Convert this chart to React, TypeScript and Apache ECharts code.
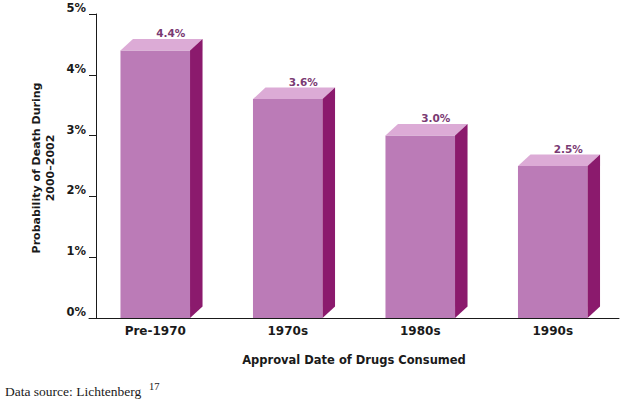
import React, { useEffect, useRef } from "react";
import * as echarts from "echarts";

const categories = ["Pre-1970", "1970s", "1980s", "1990s"];
const values = [4.4, 3.6, 3.0, 2.5];
const yTicks = [0, 1, 2, 3, 4, 5];

const FRONT = "#bb7bb7";
const TOP = "#dcabd6";
const SIDE = "#8b1a6d";
const LABEL = "#7a3a73";
const INK = "#1a1a1a";
const FONT = "'DejaVu Sans', Verdana, sans-serif";
const SERIF = "'Liberation Serif', 'Times New Roman', serif";

export default function App() {
  const ref = useRef<HTMLDivElement>(null);
  useEffect(() => {
    if (!ref.current) return;
    const chart = echarts.init(ref.current, null, { renderer: "svg" });
    const DX = 12.5;
    const DY = 11.5;
    chart.setOption({
      animation: false,
      backgroundColor: "#ffffff",
      grid: { left: 89, right: 11, top: 14, bottom: 88 },
      xAxis: {
        type: "category",
        data: categories,
        axisTick: { show: false },
        axisLine: { lineStyle: { color: INK, width: 1 } },
        axisLabel: {
          margin: 7,
          fontFamily: FONT,
          fontWeight: "bold",
          fontSize: 12,
          color: INK,
        },
        name: "Approval Date of Drugs Consumed",
        nameLocation: "middle",
        nameGap: 36,
        nameTextStyle: {
          fontFamily: FONT,
          fontWeight: "bold",
          fontSize: 11.5,
          color: INK,
        },
      },
      yAxis: {
        type: "value",
        min: yTicks[0],
        max: yTicks[yTicks.length - 1],
        interval: 1,
        offset: -7,
        splitLine: { show: false },
        axisLine: { show: true, lineStyle: { color: INK, width: 1 } },
        axisTick: { show: true, length: 7, lineStyle: { color: INK } },
        axisLabel: {
          formatter: "{value}%",
          margin: 10,
          verticalAlign: "bottom",
          fontFamily: FONT,
          fontWeight: "bold",
          fontSize: 11.5,
          color: INK,
        },
      },
      series: [
        {
          type: "custom",
          data: values.map((v, i) => [i, v]),
          renderItem: (params: any, api: any) => {
            const idx = api.value(0);
            const v = api.value(1);
            const base = api.coord([idx, 0]);
            const top = api.coord([idx, v]);
            const band = api.size([1, 0])[0];
            const w = band * 0.525;
            const x0 = base[0] - w / 2;
            const x1 = base[0] + w / 2;
            const yb = base[1];
            const yt = top[1];
            return {
              type: "group",
              children: [
                {
                  type: "polygon",
                  shape: { points: [[x0, yt], [x1, yt], [x1, yb], [x0, yb]] },
                  style: { fill: FRONT },
                },
                {
                  type: "polygon",
                  shape: {
                    points: [
                      [x0, yt],
                      [x0 + DX, yt - DY],
                      [x1 + DX, yt - DY],
                      [x1, yt],
                    ],
                  },
                  style: { fill: TOP },
                },
                {
                  type: "polygon",
                  shape: {
                    points: [
                      [x1, yt],
                      [x1 + DX, yt - DY],
                      [x1 + DX, yb - DY],
                      [x1, yb],
                    ],
                  },
                  style: { fill: SIDE },
                },
                {
                  type: "text",
                  style: {
                    x: base[0] + 15.5,
                    y: yt - DY - 6,
                    text: v.toFixed(1) + "%",
                    textAlign: "center",
                    textVerticalAlign: "middle",
                    fill: LABEL,
                    font: `bold 10.5px ${FONT}`,
                  },
                },
              ],
            };
          },
        },
      ],
      graphic: [
        {
          type: "text",
          x: 43,
          y: 168,
          rotation: Math.PI / 2,
          style: {
            text: "Probability of Death During\n2000–2002",
            textAlign: "center",
            textVerticalAlign: "middle",
            lineHeight: 14,
            fill: INK,
            font: `bold 11px ${FONT}`,
          },
        },
        {
          type: "text",
          left: 5,
          top: 384,
          style: {
            text: "Data source: Lichtenberg",
            fill: INK,
            font: `13.5px ${SERIF}`,
          },
        },
        {
          type: "text",
          left: 149,
          top: 381,
          style: {
            text: "17",
            fill: INK,
            font: `10.5px ${SERIF}`,
          },
        },
      ],
    });
    return () => chart.dispose();
  }, []);
  return (
    <div
      ref={ref}
      style={{ position: "absolute", left: 0, top: 0, width: 630, height: 406 }}
    />
  );
}
